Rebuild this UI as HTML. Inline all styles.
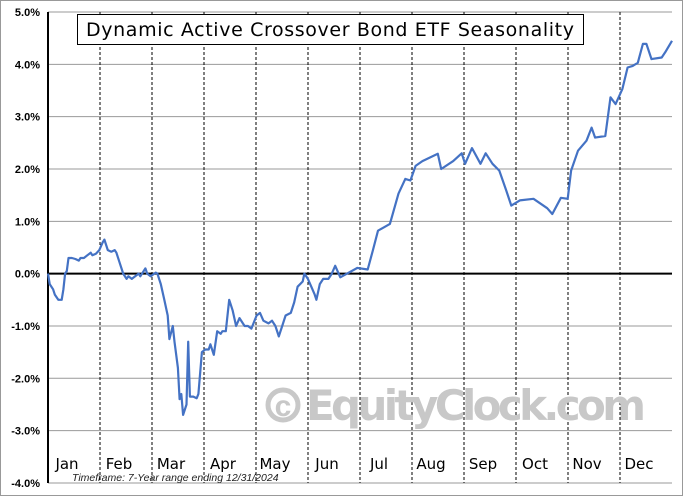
<!DOCTYPE html>
<html><head><meta charset="utf-8"><style>
body{margin:0;background:#fff;font-family:"Liberation Sans",sans-serif}
svg{display:block}
</style></head><body>
<svg id="c" width="683" height="496" xmlns="http://www.w3.org/2000/svg">
<rect x="0.5" y="0.5" width="682" height="495" fill="#fff" stroke="#999"/>
<g id="grid"></g>
<g id="wm">
<circle cx="283" cy="405" r="15" fill="none" stroke="#c8c8c8" stroke-width="5"/>
<text x="283" y="416" font-size="30" font-weight="bold" fill="#c8c8c8" text-anchor="middle">c</text>
<text x="306" y="420" font-size="42" font-weight="bold" fill="#c8c8c8" font-family="DejaVu Sans, sans-serif" textLength="340">EquityClock.com</text>
</g>
<g id="axes"></g>
<path id="line" fill="none" stroke="#4472c4" stroke-width="2.2" stroke-linejoin="round"/>
<rect x="77.5" y="14.5" width="506" height="30" fill="#fff" stroke="#000"/>
<text x="86" y="36" font-size="19" font-family="DejaVu Sans, sans-serif" textLength="488">Dynamic Active Crossover Bond ETF Seasonality</text>
<text x="72" y="481" font-size="10.5" font-style="italic" fill="#222">Timeframe: 7-Year range ending 12/31/2024</text>
</svg>
<script>
const yTicks=[5,4,3,2,1,0,-1,-2,-3,-4];
const months=["Jan","Feb","Mar","Apr","May","Jun","Jul","Aug","Sep","Oct","Nov","Dec"];
const days=[0,1,3,4,6,8,9,10,11,12,14,16,18,19,21,23,25,26,28,30,32,33,35,37,39,40,42,44,46,47,49,51,53,54,57,58,60,63,64,66,68,70,71,73,74,76,77,78,79,81,82,83,85,87,88,90,92,94,95,97,99,101,102,104,106,108,110,112,115,117,119,122,124,126,129,131,133,135,137,139,142,144,146,149,150,152,154,156,157,159,161,164,166,168,171,181,187,190,193,200,205,209,212,215,219,228,230,237,242,244,248,253,256,260,264,268,271,276,284,292,295,300,304,306,310,315,318,320,326,329,332,336,339,342,345,348,350,353,359,361,365];
const vals=[0,-0.2,-0.3,-0.4,-0.5,-0.5,-0.3,0,0.05,0.3,0.3,0.28,0.25,0.3,0.3,0.35,0.4,0.35,0.38,0.45,0.6,0.65,0.45,0.42,0.45,0.4,0.2,0,-0.1,-0.05,-0.1,-0.05,0,-0.05,0.1,0,-0.05,0.02,0,-0.2,-0.5,-0.8,-1.25,-1.0,-1.3,-1.8,-2.4,-2.3,-2.7,-2.5,-1.3,-2.35,-2.35,-2.38,-2.3,-1.5,-1.45,-1.45,-1.35,-1.55,-1.1,-1.15,-1.1,-1.1,-0.5,-0.7,-1.0,-0.85,-1.0,-1.0,-1.05,-0.8,-0.75,-0.9,-0.95,-0.9,-1.0,-1.2,-1.0,-0.8,-0.75,-0.55,-0.25,-0.15,0,-0.1,-0.25,-0.4,-0.5,-0.2,-0.1,-0.1,0,0.15,-0.07,0.11,0.08,0.44,0.82,0.95,1.53,1.81,1.78,2.06,2.15,2.29,2.0,2.15,2.3,2.1,2.4,2.1,2.3,2.1,1.97,1.59,1.3,1.4,1.43,1.25,1.14,1.45,1.43,1.97,2.35,2.54,2.79,2.6,2.63,3.37,3.24,3.53,3.94,3.97,4.03,4.39,4.39,4.1,4.13,4.23,4.45];
const X0=48,X1=672,Y5=12,PX=52.33;
const xs=d=>X0+d/365*(X1-X0);
const ys=v=>Y5+(5-v)*PX;
const NS="http://www.w3.org/2000/svg";
function mk(t,a,p){const e=document.createElementNS(NS,t);for(const k in a)e.setAttribute(k,a[k]);p.appendChild(e);return e;}
const grid=document.getElementById('grid'),axes=document.getElementById('axes');
yTicks.forEach(v=>{
 const y=ys(v);
 if(v!==0){const l=mk('line',{x1:X0,x2:X1,y1:y,y2:y,stroke:'#999','stroke-width':1},grid);
 
 }
 const t=mk('text',{x:40,y:y+4,'font-size':11,'font-weight':'bold','text-anchor':'end'},axes);
 t.textContent=v.toFixed(1)+'%';
 
 
});
months.forEach((m,i)=>{
 const x0=xs(i*365/12),x1=xs((i+1)*365/12);
 if(i>0){const l=mk('line',{x1:x0,x2:x0,y1:Y5,y2:ys(-4),stroke:'#000','stroke-width':1,'stroke-dasharray':'3,2'},grid);
 
 }
 const t=mk('text',{x:(x0+x1)/2-7,y:469,'font-size':15,'font-family':'DejaVu Sans, sans-serif','text-anchor':'middle'},axes);
 t.textContent=m;
 
 
});
const ya=mk('line',{x1:X0,x2:X0,y1:Y5,y2:ys(-4),stroke:'#000','stroke-width':2},axes);


const za=mk('line',{x1:X0,x2:X1,y1:ys(0),y2:ys(0),stroke:'#000','stroke-width':2},axes);


document.getElementById('line').setAttribute('d',days.map((d,i)=>(i?'L':'M')+xs(d).toFixed(1)+','+ys(vals[i]).toFixed(1)).join(''));
</script>
</body></html>
